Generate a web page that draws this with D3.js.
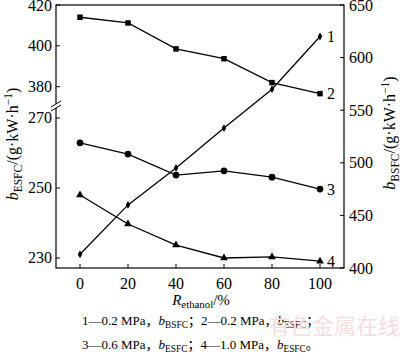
<!DOCTYPE html>
<html>
<head>
<meta charset="utf-8">
<script src="https://cdn.jsdelivr.net/npm/d3@7"></script>
<style>
  body { margin: 0; background: #fff; }
  svg { display: block; }
  text { font-family: "Liberation Serif", "Times New Roman", "Noto Sans CJK SC", serif; fill: #000; }
</style>
</head>
<body>
<div id="chart"></div>
<script>
// ethanol ratio, %
const ratios = [0, 20, 40, 60, 80, 100];
// 1 - 0.2 MPa, BSFC (right axis)
const bsfc02 = [413, 460, 495, 533, 570, 620];
// 2 - 0.2 MPa, ESFC (left axis, upper part)
const esfc02 = [414, 411.2, 398.5, 393.7, 382, 376.6];
// 3 - 0.6 MPa, ESFC (left axis, lower part)
const esfc06 = [262.9, 259.7, 253.7, 254.9, 253.1, 249.7];
// 4 - 1.0 MPa, ESFC (left axis, lower part)
const esfc10 = [248, 239.7, 233.7, 230, 230.3, 229.1];

const xTicks = [0, 20, 40, 60, 80, 100];
const leftUpperTicks = [380, 400, 420];
const leftLowerTicks = [230, 250, 270];
const rightTicks = [400, 450, 500, 550, 600, 650];

const W = 400, H = 359;
const L = 56, R = 344, T = 5, B = 268;
const breakY = 106;

const svg = d3.select("#chart").append("svg")
    .attr("width", W)
    .attr("height", H);

const x = d3.scaleLinear().domain([-10, 110]).range([L, R]);
const yUp = d3.scaleLinear().domain([372.5, 420]).range([102, T]);
const yLow = d3.scaleLinear().domain([227.14, 272]).range([B, 111]);
const yR = d3.scaleLinear().domain([400, 650]).range([B, T]);

// frame
svg.append("rect")
    .attr("x", L).attr("y", T)
    .attr("width", R - L).attr("height", B - T)
    .attr("fill", "none")
    .attr("stroke", "#000")
    .attr("stroke-width", 1.2);

// axis break on left
svg.append("rect")
    .attr("x", L - 3).attr("y", breakY - 2)
    .attr("width", 6).attr("height", 4)
    .attr("fill", "#fff");
[-2, 2].forEach(dy => {
    svg.append("line")
        .attr("x1", L - 5).attr("y1", breakY + dy + 3)
        .attr("x2", L + 5).attr("y2", breakY + dy - 3)
        .attr("stroke", "#000").attr("stroke-width", 1);
});

const tickLen = 4;
const fs = 16;

// x axis ticks
xTicks.forEach(v => {
    svg.append("line")
        .attr("x1", x(v)).attr("x2", x(v))
        .attr("y1", B).attr("y2", B - tickLen)
        .attr("stroke", "#000").attr("stroke-width", 1);
    svg.append("text")
        .attr("x", x(v)).attr("y", B + 21)
        .attr("text-anchor", "middle")
        .attr("font-size", fs)
        .text(v);
});

// left ticks
function leftTick(yPos, label) {
    svg.append("line")
        .attr("x1", L).attr("x2", L + tickLen)
        .attr("y1", yPos).attr("y2", yPos)
        .attr("stroke", "#000").attr("stroke-width", 1);
    svg.append("text")
        .attr("x", L - 4).attr("y", Math.max(yPos + 5.5, 11))
        .attr("text-anchor", "end")
        .attr("font-size", fs)
        .text(label);
}
leftUpperTicks.forEach(v => leftTick(yUp(v), v));
leftLowerTicks.forEach(v => leftTick(yLow(v), v));

// right ticks
rightTicks.forEach(v => {
    svg.append("line")
        .attr("x1", R).attr("x2", R - tickLen)
        .attr("y1", yR(v)).attr("y2", yR(v))
        .attr("stroke", "#000").attr("stroke-width", 1);
    svg.append("text")
        .attr("x", R + 5).attr("y", Math.max(yR(v) + 5.5, 11))
        .attr("text-anchor", "start")
        .attr("font-size", fs)
        .text(v);
});

// series
const series = [
    { vals: bsfc02, y: yR, marker: "diamond", label: "1" },
    { vals: esfc02, y: yUp, marker: "square", label: "2" },
    { vals: esfc06, y: yLow, marker: "circle", label: "3" },
    { vals: esfc10, y: yLow, marker: "triangle", label: "4" }
];

const symbols = {
    diamond: d3.symbol().type(d3.symbolDiamond).size(18),
    square: d3.symbol().type(d3.symbolSquare).size(30),
    circle: d3.symbol().type(d3.symbolCircle).size(36),
    triangle: d3.symbol().type(d3.symbolTriangle).size(26)
};

series.forEach(s => {
    const pts = ratios.map((r, i) => [x(r), s.y(s.vals[i])]);
    svg.append("path")
        .attr("d", d3.line()(pts))
        .attr("fill", "none")
        .attr("stroke", "#000")
        .attr("stroke-width", 1.3);
    svg.selectAll(null)
        .data(pts)
        .enter()
        .append("path")
        .attr("transform", d => `translate(${d[0]},${d[1]})`)
        .attr("d", symbols[s.marker])
        .attr("fill", "#000");
    const last = pts[pts.length - 1];
    svg.append("text")
        .attr("x", last[0] + 7).attr("y", last[1] + 5.5)
        .attr("font-size", fs)
        .text(s.label);
});

// rich text helper
function rich(g, parts, size) {
    const t = g.append("text").attr("font-size", size);
    parts.forEach(p => {
        const ts = t.append("tspan").text(p.t);
        if (p.i) ts.attr("font-style", "italic");
        if (p.sub) ts.attr("font-size", size * 0.72).attr("dy", size * 0.22);
        if (p.sup) ts.attr("font-size", size * 0.72).attr("dy", -size * 0.4);
        if (p.back) ts.attr("dy", p.back * size);
    });
    return t;
}

// x title
rich(svg.append("g").attr("transform", "translate(201,305)"), [
    { t: "R", i: true },
    { t: "ethanol", sub: true },
    { t: "/%", back: -0.22 }
], 15).attr("text-anchor", "middle");

// left title
rich(svg.append("g").attr("transform", "translate(18,144) rotate(-90)"), [
    { t: "b", i: true },
    { t: "ESFC", sub: true },
    { t: "/(g·kW·h", back: -0.22 },
    { t: "−1", sup: true },
    { t: ")", back: 0.4 }
], 16).attr("text-anchor", "middle");

// right title
rich(svg.append("g").attr("transform", "translate(395,133) rotate(-90)"), [
    { t: "b", i: true },
    { t: "BSFC", sub: true },
    { t: "/(g·kW·h", back: -0.22 },
    { t: "−1", sup: true },
    { t: ")", back: 0.4 }
], 16).attr("text-anchor", "middle");

// legend
const legendLines = [
    [{ t: "1—0.2 MPa，" }, { t: "b", i: true }, { t: "BSFC", sub: true }, { t: "；2—0.2 MPa，", back: -0.22 },
     { t: "b", i: true }, { t: "ESFC", sub: true }, { t: "；", back: -0.22 }],
    [{ t: "3—0.6 MPa，" }, { t: "b", i: true }, { t: "ESFC", sub: true }, { t: "；4—1.0 MPa，", back: -0.22 },
     { t: "b", i: true }, { t: "ESFC", sub: true }, { t: "。", back: -0.22 }]
];
legendLines.forEach((ln, i) => {
    rich(svg.append("g").attr("transform", `translate(82,${325 + i * 24})`), ln, 13);
});

// watermark
svg.append("text")
    .attr("x", 268).attr("y", 334)
    .attr("font-family", "Noto Sans CJK SC")
    .attr("font-size", 22)
    .style("fill", "#f5dede")
    .text("有色金属在线");
</script>
</body>
</html>
